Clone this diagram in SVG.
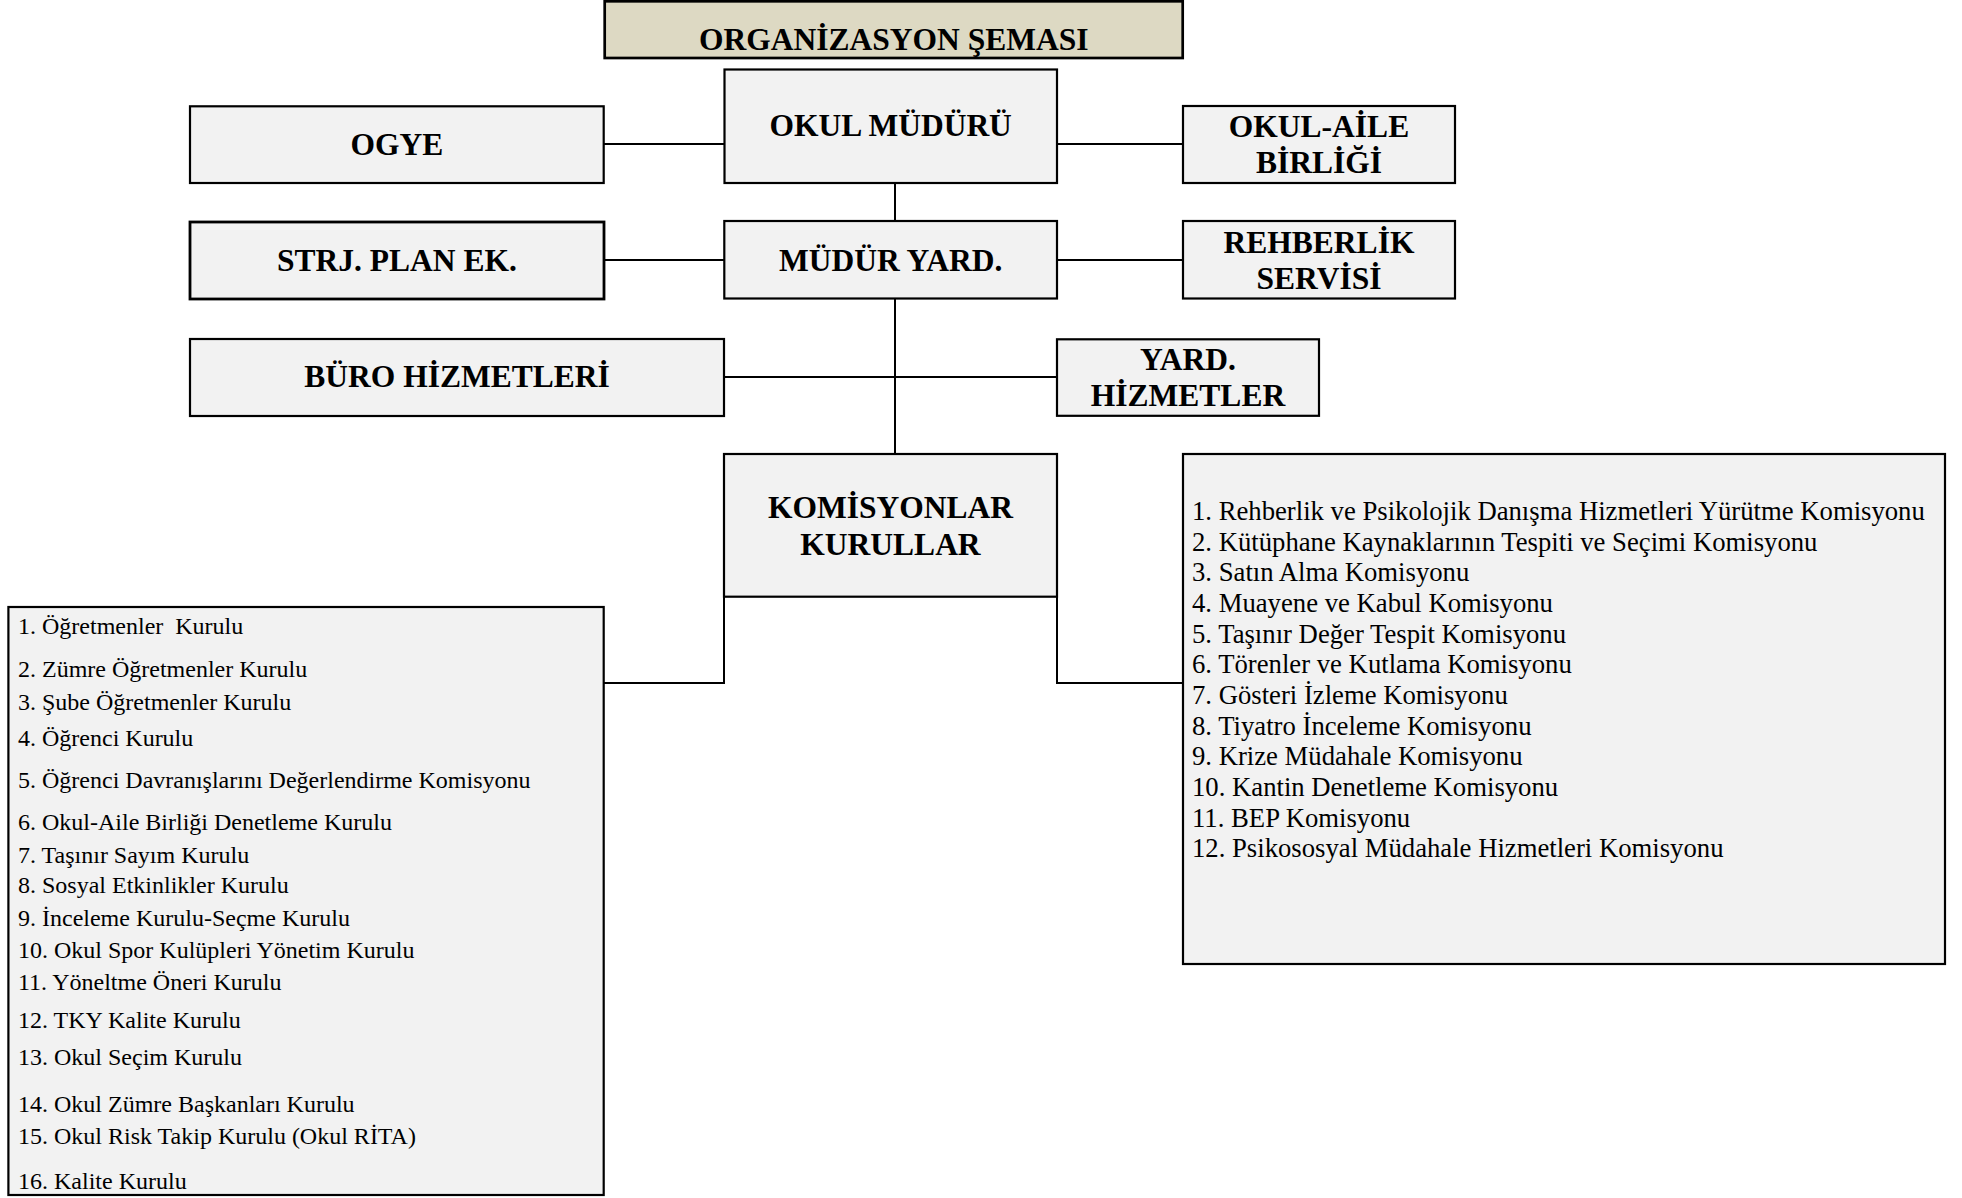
<svg xmlns="http://www.w3.org/2000/svg" width="1962" height="1198" viewBox="0 0 1962 1198">
<style>
.box{fill:#F2F2F2;stroke:#000;stroke-width:2.2}
.thick{stroke-width:2.8}
.title{fill:#DDD9C3;stroke:#000;stroke-width:2.7}
.lbl{font-family:"Liberation Serif","Times New Roman",serif;font-weight:bold;font-size:31.5px;text-anchor:middle;fill:#000}
.li{font-family:"Liberation Serif","Times New Roman",serif;font-size:24px;fill:#000;white-space:pre}
.ri{font-family:"Liberation Serif","Times New Roman",serif;font-size:26.7px;fill:#000}
.c{fill:none;stroke:#000;stroke-width:2}
</style>
<rect width="1962" height="1198" fill="#fff"/>
<g id="connectors">
<line class="c" x1="604" y1="144" x2="724" y2="144"/>
<line class="c" x1="1057" y1="144" x2="1183" y2="144"/>
<line class="c" x1="895" y1="183" x2="895" y2="221"/>
<line class="c" x1="604" y1="260" x2="724" y2="260"/>
<line class="c" x1="1057" y1="260" x2="1183" y2="260"/>
<line class="c" x1="895" y1="298.5" x2="895" y2="454"/>
<line class="c" x1="724" y1="377" x2="1057" y2="377"/>
<polyline class="c" points="724,596.7 724,683 604,683"/>
<polyline class="c" points="1057,596.7 1057,683 1183,683"/>
</g>
<g id="title">
<rect class="title" x="604.7" y="1.3" width="578" height="56.7"/>
<text class="lbl" x="893.7" y="50">ORGANİZASYON ŞEMASI</text>
</g>
<g id="okul-muduru">
<rect class="box" x="724.5" y="69.5" width="332.5" height="113.5"/>
<text class="lbl" x="890.7" y="136">OKUL MÜDÜRÜ</text>
</g>
<g id="ogye">
<rect class="box" x="190" y="106.3" width="413.7" height="76.7"/>
<text class="lbl" x="396.8" y="154.5">OGYE</text>
</g>
<g id="okul-aile">
<rect class="box" x="1183" y="106" width="272" height="77"/>
<text class="lbl" x="1319" y="137">OKUL-AİLE</text>
<text class="lbl" x="1319" y="173">BİRLİĞİ</text>
</g>
<g id="strj">
<rect class="box thick" x="190" y="222" width="414" height="77"/>
<text class="lbl" x="397" y="271">STRJ. PLAN EK.</text>
</g>
<g id="mudur-yard">
<rect class="box" x="724.3" y="221" width="332.7" height="77.5"/>
<text class="lbl" x="890.7" y="271">MÜDÜR YARD.</text>
</g>
<g id="rehberlik">
<rect class="box" x="1183" y="221" width="272" height="77.5"/>
<text class="lbl" x="1319" y="253">REHBERLİK</text>
<text class="lbl" x="1319" y="289">SERVİSİ</text>
</g>
<g id="buro">
<rect class="box" x="190" y="339" width="534" height="77"/>
<text class="lbl" x="457" y="387">BÜRO HİZMETLERİ</text>
</g>
<g id="yard-hizmetler">
<rect class="box" x="1057" y="339.3" width="262" height="76.5"/>
<text class="lbl" x="1188" y="370">YARD.</text>
<text class="lbl" x="1188" y="406">HİZMETLER</text>
</g>
<g id="komisyonlar">
<rect class="box" x="724" y="454" width="333" height="142.7"/>
<text class="lbl" x="890.5" y="518">KOMİSYONLAR</text>
<text class="lbl" x="890.5" y="555">KURULLAR</text>
</g>
<g id="kurullar-list">
<rect class="box" x="8.4" y="607" width="595.3" height="588"/>
<text class="li" x="18" y="634">1. Öğretmenler  Kurulu</text>
<text class="li" x="18" y="677">2. Zümre Öğretmenler Kurulu</text>
<text class="li" x="18" y="710">3. Şube Öğretmenler Kurulu</text>
<text class="li" x="18" y="746">4. Öğrenci Kurulu</text>
<text class="li" x="18" y="788">5. Öğrenci Davranışlarını Değerlendirme Komisyonu</text>
<text class="li" x="18" y="830">6. Okul-Aile Birliği Denetleme Kurulu</text>
<text class="li" x="18" y="863">7. Taşınır Sayım Kurulu</text>
<text class="li" x="18" y="893">8. Sosyal Etkinlikler Kurulu</text>
<text class="li" x="18" y="926">9. İnceleme Kurulu-Seçme Kurulu</text>
<text class="li" x="18" y="958">10. Okul Spor Kulüpleri Yönetim Kurulu</text>
<text class="li" x="18" y="990">11. Yöneltme Öneri Kurulu</text>
<text class="li" x="18" y="1028">12. TKY Kalite Kurulu</text>
<text class="li" x="18" y="1065">13. Okul Seçim Kurulu</text>
<text class="li" x="18" y="1112">14. Okul Zümre Başkanları Kurulu</text>
<text class="li" x="18" y="1144">15. Okul Risk Takip Kurulu (Okul RİTA)</text>
<text class="li" x="18" y="1189">16. Kalite Kurulu</text>
</g>
<g id="komisyonlar-list">
<rect class="box" x="1183" y="454" width="762" height="510"/>
<text class="ri" x="1192" y="520">1. Rehberlik ve Psikolojik Danışma Hizmetleri Yürütme Komisyonu</text>
<text class="ri" x="1192" y="550.7">2. Kütüphane Kaynaklarının Tespiti ve Seçimi Komisyonu</text>
<text class="ri" x="1192" y="581.3">3. Satın Alma Komisyonu</text>
<text class="ri" x="1192" y="612">4. Muayene ve Kabul Komisyonu</text>
<text class="ri" x="1192" y="642.6">5. Taşınır Değer Tespit Komisyonu</text>
<text class="ri" x="1192" y="673.3">6. Törenler ve Kutlama Komisyonu</text>
<text class="ri" x="1192" y="704">7. Gösteri İzleme Komisyonu</text>
<text class="ri" x="1192" y="734.6">8. Tiyatro İnceleme Komisyonu</text>
<text class="ri" x="1192" y="765.2">9. Krize Müdahale Komisyonu</text>
<text class="ri" x="1192" y="795.9">10. Kantin Denetleme Komisyonu</text>
<text class="ri" x="1192" y="826.5">11. BEP Komisyonu</text>
<text class="ri" x="1192" y="857.2">12. Psikososyal Müdahale Hizmetleri Komisyonu</text>
</g>
</svg>
